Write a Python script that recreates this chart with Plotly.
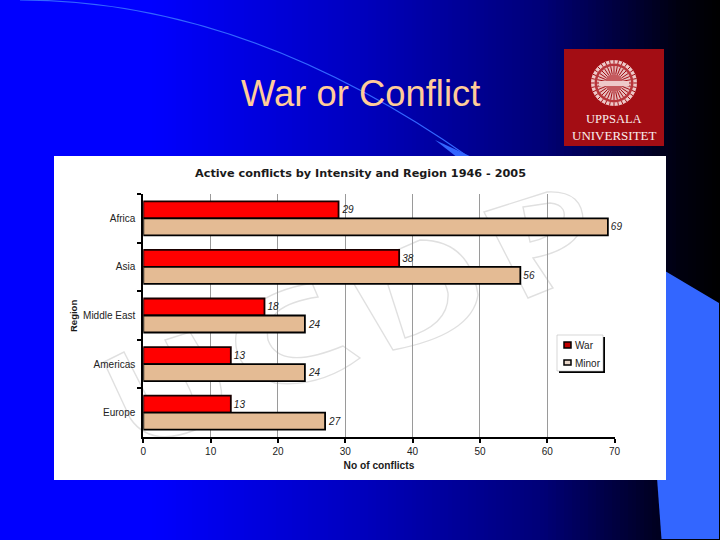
import math
import plotly.graph_objects as go

W, H = 720, 540

# ---- data ----
regions = ["Africa", "Asia", "Middle East", "Americas", "Europe"]
war = [29, 38, 18, 13, 13]
minor = [69, 56, 24, 24, 27]
x_ticks = [0, 10, 20, 30, 40, 50, 60, 70]
chart_title = "Active conflicts by Intensity and Region 1946 - 2005"
slide_title = "War or Conflict"

RED = "#ff0000"
TAN = "#e4bb94"
ACCENT = "#3366ff"
MARK = "#e0e0e0"


def fx(x):
    return x / W


def fy(y):
    return 1 - y / H


def path(cmds):
    """cmds: list of (letter, x, y, ...) in slide pixels -> paper-referenced SVG path."""
    out = []
    for c in cmds:
        if c[0] == "Z":
            out.append("Z")
            continue
        vals = c[1:]
        pts = []
        for i in range(0, len(vals), 2):
            pts.append(f"{fx(vals[i]):.5f},{fy(vals[i + 1]):.5f}")
        out.append(c[0] + " " + " ".join(pts))
    return " ".join(out)


shapes = []


def add_rect(x0, y0, x1, y1, fill, line=None, lw=0):
    shapes.append(dict(type="rect", xref="paper", yref="paper", layer="below",
                       x0=fx(x0), x1=fx(x1), y0=fy(y1), y1=fy(y0),
                       fillcolor=fill, line=dict(color=line or fill, width=lw)))


def add_path(cmds, fill=None, line=None, lw=1):
    d = dict(type="path", xref="paper", yref="paper", layer="below", path=path(cmds),
             line=dict(color=line or "rgba(0,0,0,0)", width=lw))
    if fill:
        d["fillcolor"] = fill
    shapes.append(d)


def add_circle(cx, cy, r, fill=None, line=None, lw=1):
    d = dict(type="circle", xref="paper", yref="paper", layer="below",
             x0=fx(cx - r), x1=fx(cx + r), y0=fy(cy + r), y1=fy(cy - r),
             line=dict(color=line or "rgba(0,0,0,0)", width=lw))
    if fill:
        d["fillcolor"] = fill
    shapes.append(d)


# ---- slide background gradient ----
stops = [(0, 255), (150, 255), (360, 190), (540, 120), (620, 60), (680, 15), (720, 0)]


def blue_at(x):
    for (a, va), (b, vb) in zip(stops, stops[1:]):
        if a <= x <= b:
            return va + (vb - va) * (x - a) / (b - a)
    return 0


for x in range(0, W, 4):
    c = f"rgb(0,0,{round(blue_at(x + 2))})"
    add_rect(x, 0, x + 4.5, H, c)

# sweeping accent line and lower-right block
add_path([("M", 20, 0), ("Q", 245, 0, 470, 158)], line=ACCENT, lw=1.2)
add_path([("M", 435, 140), ("L", 474, 158), ("L", 458, 158), ("Z",)], fill=ACCENT)
add_path([("M", 660, 268), ("L", 719, 303), ("L", 719, 539), ("L", 661.5, 539),
          ("L", 657, 478), ("Z",)], fill=ACCENT)

# white chart panel
add_rect(54, 156, 666, 480, "#ffffff")

# watermark letters (U C D P)
u = [("M", 104, 362), ("L", 124, 352), ("L", 150, 403), ("Q", 165, 420, 182, 413), ("Q", 197, 405, 190, 390),
     ("L", 165, 340), ("L", 190, 332), ("L", 220, 383), ("Q", 228, 415, 195, 430),
     ("Q", 150, 448, 130, 418), ("Z",)]
c_ = [("M", 312, 283), ("L", 318, 297), ("Q", 262, 305, 268, 340), ("Q", 280, 372, 343, 346),
      ("L", 360, 358), ("Q", 320, 388, 275, 383), ("Q", 232, 370, 236, 335), ("Q", 245, 295, 312, 283), ("Z",)]
d_ = [("M", 347, 272), ("L", 420, 240), ("Q", 470, 240, 478, 295), ("Q", 472, 335, 393, 350), ("Z",),
      ("M", 388, 285), ("L", 405, 338), ("Q", 450, 325, 448, 293), ("Q", 440, 255, 388, 285), ("Z",)]
p_ = [("M", 484, 212), ("L", 547, 192), ("Q", 585, 190, 583, 225), ("Q", 575, 250, 533, 258),
      ("L", 553, 288), ("L", 528, 298), ("Z",),
      ("M", 523, 207), ("L", 550, 203), ("Q", 570, 205, 562, 225), ("Q", 550, 238, 530, 242), ("Z",)]
for letter in (u, c_, d_, p_):
    add_path(letter, line=MARK, lw=1.4)

# logo block
add_rect(564, 49, 664, 146, "#a30d14")
SEAL_X, SEAL_Y = 614, 83
add_circle(SEAL_X, SEAL_Y, 23, fill="#eec9c9")
add_circle(SEAL_X, SEAL_Y, 19.5, fill="#b8343a")
add_circle(SEAL_X, SEAL_Y, 17, fill="#e6bcbc")
add_circle(SEAL_X, SEAL_Y, 9, fill="#c55a5e")
for k in range(32):
    a = 2 * math.pi * k / 32
    add_path([("M", SEAL_X + 9 * math.cos(a), SEAL_Y + 9 * math.sin(a)),
              ("L", SEAL_X + 17 * math.cos(a), SEAL_Y + 17 * math.sin(a))], line="#a30d14", lw=1)
    add_path([("M", SEAL_X + 19.5 * math.cos(a), SEAL_Y + 19.5 * math.sin(a)),
              ("L", SEAL_X + 23 * math.cos(a), SEAL_Y + 23 * math.sin(a))], line="#a30d14", lw=1)
add_rect(SEAL_X - 15, SEAL_Y - 2, SEAL_X + 15, SEAL_Y + 3, "#eec9c9")

# legend box shadow + frame + swatches
add_rect(559, 337, 605, 373, "#000000")
add_rect(557, 335, 603, 371, "#ffffff", line="#bdbdbd", lw=0.6)
add_rect(564, 342, 571, 348, "#c00000", line="#000000", lw=1.5)
add_rect(564, 360, 571, 365, "#e8d6c8", line="#000000", lw=1.5)

# ---- chart ----
fig = go.Figure()
fig.add_bar(name="War", y=regions, x=war, orientation="h", marker=dict(color=RED, line=dict(color="#1a0000", width=1.8)),
            text=war, textposition="outside", cliponaxis=False,
            textfont=dict(family="Liberation Sans", size=10, style="italic", color="#222222"))
fig.add_bar(name="Minor", y=regions, x=minor, orientation="h", marker=dict(color=TAN, line=dict(color="#000000", width=1.8)),
            text=minor, textposition="outside", cliponaxis=False,
            textfont=dict(family="Liberation Sans", size=10, style="italic", color="#222222"))


def note(text, x, y, family, size, color, anchor="center", angle=0):
    return dict(text=text, xref="paper", yref="paper", x=fx(x), y=fy(y), xanchor=anchor, yanchor="middle",
                showarrow=False, textangle=angle, font=dict(family=family, size=size, color=color))


annotations = [
    note(slide_title, 360.5, 93, "Liberation Sans", 36.4, "#ffcc99"),
    note(f"<b>{chart_title}</b>", 360.5, 173, "DejaVu Sans", 11.25, "#1a1a1a"),
    note("UPPSALA", 614, 119, "Liberation Serif", 12.5, "#f8eeee"),
    note("UNIVERSITET", 614.5, 135, "Liberation Serif", 13, "#f8eeee"),
    note("War", 573, 345, "Liberation Sans", 10, "#222222", "left"),
    note("Minor", 573, 363, "Liberation Sans", 10, "#222222", "left"),
    note("<b>Region</b>", 73, 316, "Liberation Sans", 9.5, "#1a1a1a", angle=-90),
]

fig.update_layout(
    width=W, height=H, autosize=False,
    margin=dict(l=0, r=0, t=0, b=0, pad=0),
    paper_bgcolor="#0000c0", plot_bgcolor="rgba(0,0,0,0)",
    barmode="group", bargap=0.3, bargroupgap=0,
    showlegend=False, shapes=shapes, annotations=annotations,
    font=dict(family="Liberation Sans", size=10, color="#222222"),
    xaxis=dict(domain=[fx(143.3), fx(614.6)], range=[0, 70], tickvals=x_ticks, showgrid=True,
               gridcolor="#9a9a9a", gridwidth=1, zeroline=False, showline=True,
               linecolor="#000000", linewidth=2, ticks="outside", ticklen=4, tickwidth=2,
               tickcolor="#000000", automargin=False,
               title=dict(text="<b>No of conflicts</b>", standoff=6,
                          font=dict(family="Liberation Sans", size=10.2, color="#1a1a1a"))),
    yaxis=dict(domain=[fy(437), fy(194)], autorange="reversed", type="category", categoryorder="array",
               categoryarray=regions, showline=True, linecolor="#000000", linewidth=2,
               ticks="outside", ticklen=4, tickwidth=2, tickcolor="#000000", tickson="boundaries",
               showgrid=False, automargin=False, ticklabelstandoff=4),
)
fig.write_html("out.html", config={"displayModeBar": False},
               post_script="document.body.style.margin='0';document.body.style.overflow='hidden';")
